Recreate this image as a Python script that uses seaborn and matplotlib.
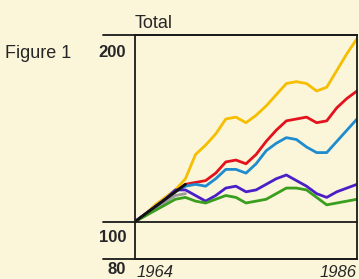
import pandas as pd
import matplotlib.pyplot as plt
import seaborn as sns

years = list(range(1964, 1987))

yellow = [100, 104, 109, 113, 117, 123, 136, 141, 147, 155, 156, 153, 157, 162, 168, 174, 175, 174, 170, 172, 181, 190, 198]
red = [100, 104, 108, 112, 116, 120, 121, 122, 126, 132, 133, 131, 136, 143, 149, 154, 155, 156, 153, 154, 161, 166, 170]
blue = [100, 104, 108, 112, 116, 119, 120, 119, 123, 128, 128, 126, 131, 138, 142, 145, 144, 140, 137, 137, 143, 149, 155]
purple = [100, 104, 108, 112, 117, 117, 114, 111, 114, 118, 119, 116, 117, 120, 123, 125, 122, 119, 115, 113, 116, 118, 120]
green = [100, 103, 106, 109, 112, 113, 111, 110, 112, 114, 113, 110, 111, 112, 115, 118, 118, 117, 113, 109, 110, 111, 112]

# short early segments seen near the origin
early_years = [1964, 1965, 1966, 1967, 1968, 1969]
black_early = [100, 104, 108, 112, 116, 120]
grey_early = [100, 103.5, 107, 110.5, 114, 115]

series_names = ['yellow', 'red', 'blue', 'purple', 'green']
colors = ['#F5BE00', '#E3121C', '#1E8CCF', '#4A1FC8', '#3A9E1E']

frames = []
for name, vals in zip(series_names, [yellow, red, blue, purple, green]):
    frames.append(pd.DataFrame({'year': years, 'value': vals, 'series': name}))
df = pd.concat(frames)

sns.set_style('white')
plt.rcParams['font.family'] = ['Liberation Sans Narrow', 'Liberation Sans', 'DejaVu Sans']

bg = '#FBF5DA'
fig = plt.figure(figsize=(3.59, 2.79), dpi=100, facecolor=bg)
ax = fig.add_axes([0.376, 0.0717, 0.6184, 0.8029])
ax.set_facecolor(bg)

ax.plot(early_years, grey_early, color='#9A9A9A', lw=2, solid_capstyle='round')
sns.lineplot(data=df, x='year', y='value', hue='series', palette=dict(zip(series_names, colors)),
             legend=False, linewidth=2, ax=ax)
ax.plot(early_years, black_early, color='#111111', lw=2, solid_capstyle='round')

ax.set_xlim(1964, 1986)
ax.set_ylim(80, 200)
ax.set_xticks([])
ax.set_yticks([])
ax.set_xlabel('')
ax.set_ylabel('')
for s in ax.spines.values():
    s.set_color('#1a1a1a')
    s.set_linewidth(1.3)

# horizontal rules running out to the left of the frame
for yv in [200, 100, 80]:
    ax.plot([-0.145, 1], [yv, yv], transform=ax.get_yaxis_transform(), color='#1a1a1a',
            lw=1.3, clip_on=False)

for yv, off in [(200, -7), (100, -6), (80, -2)]:
    ax.annotate(str(yv), (-0.04, yv), xycoords=ax.get_yaxis_transform(), xytext=(0, off),
                textcoords='offset points', ha='right', va='top', fontsize=12, fontweight='bold')

ax.text(0.008, -0.025, '1964', transform=ax.transAxes, ha='left', va='top', fontsize=12, style='italic')
ax.text(1.0, -0.025, '1986', transform=ax.transAxes, ha='right', va='top', fontsize=12, style='italic')
ax.text(0.0, 1.031, 'Total', transform=ax.transAxes, ha='left', va='baseline', fontsize=13)
fig.text(0.014, 0.792, 'Figure 1', ha='left', va='baseline', fontsize=13)

fig.savefig('out.png', dpi=100, facecolor=bg)
